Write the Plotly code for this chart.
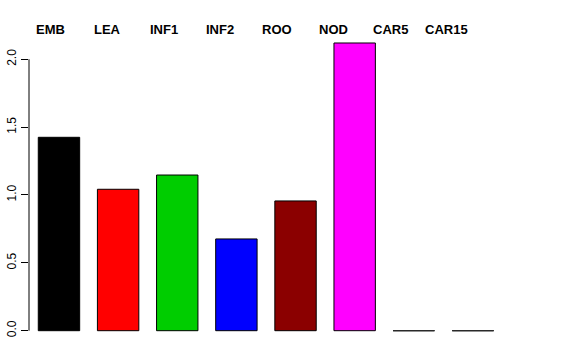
import plotly.graph_objects as go

categories = ["EMB", "LEA", "INF1", "INF2", "ROO", "NOD", "CAR5", "CAR15"]
values = [1.425, 1.042, 1.147, 0.676, 0.956, 2.12, 0.0, 0.0]
colors = ["#000000", "#FF0000", "#00CD00", "#0000FF", "#8B0000", "#FF00FF", "#BEBEBE", "#BEBEBE"]
tick_vals = [0.0, 0.5, 1.0, 1.5, 2.0]
tick_text = ["0.0", "0.5", "1.0", "1.5", "2.0"]

BAR_W = 0.7
xs = list(range(len(categories)))

fig = go.Figure()
fig.add_trace(go.Bar(
    x=xs, y=values, width=BAR_W,
    marker=dict(color=colors, line=dict(color="#000000", width=1)),
    hoverinfo="skip", showlegend=False,
))

# zero-height bars: R draws their border as a flat line
zx, zy = [], []
for i, v in zip(xs, values):
    if v == 0:
        zx += [i - BAR_W / 2, i + BAR_W / 2, None]
        zy += [v, v, None]
fig.add_trace(go.Scatter(x=zx, y=zy, mode="lines",
                         line=dict(color="#333333", width=1),
                         hoverinfo="skip", showlegend=False))

# y axis line spanning only the tick range
fig.add_shape(type="line", xref="paper", yref="y", x0=0, x1=0,
              y0=tick_vals[0], y1=tick_vals[-1],
              line=dict(color="#000000", width=1))

for i, name in enumerate(categories):
    fig.add_annotation(x=-0.145 + 0.958 * i, y=1.035, xref="x", yref="paper",
                       text="<b>%s</b>" % name, showarrow=False,
                       xanchor="center", yanchor="middle",
                       font=dict(family="Liberation Sans", size=13, color="#000000"))

fig.update_layout(
    width=576, height=360,
    margin=dict(l=29, r=68, t=40, b=27, autoexpand=False),
    plot_bgcolor="white", paper_bgcolor="white",
    font=dict(family="Liberation Sans", size=12, color="#000000"),
    bargap=0,
    xaxis=dict(range=[-0.507, 7.593], visible=False),
    yaxis=dict(range=[-0.017, 2.142], showgrid=False, zeroline=False,
               automargin=False,
               showline=False, ticks="outside", ticklen=7, tickwidth=1,
               tickcolor="#000000", tickvals=tick_vals, ticktext=tick_text,
               tickangle=-90, tickfont=dict(size=12, family="Liberation Sans")),
)

fig.write_html("out.html",
               config={"displayModeBar": False, "staticPlot": True},
               post_script="document.body.style.margin='0';")
